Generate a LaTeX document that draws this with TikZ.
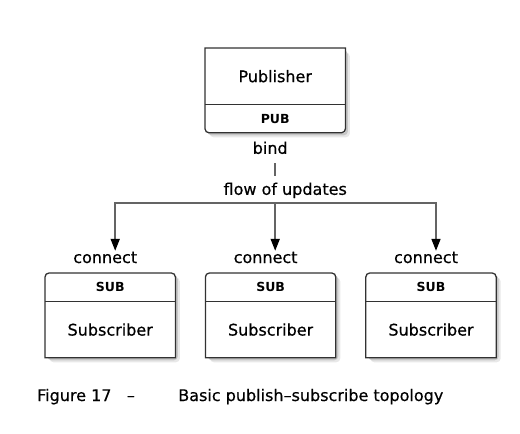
\documentclass[tikz,border=0pt]{standalone}
\usepackage{fontspec}
\setmainfont{DejaVu Sans}[UprightFeatures={FakeBold=0.5}]
\usetikzlibrary{arrows.meta, positioning, calc, backgrounds}
\definecolor{frameFg}{RGB}{50, 50, 50}
\definecolor{wireFg}{RGB}{100, 100, 100}
\tikzstyle{wire} = [line width=1.6pt, draw=wireFg]
\tikzstyle{arrow} = [wire, -{Triangle[width=9pt,length=12pt,color=black]}]
\tikzstyle{frame} = [line width=1.3pt, draw=frameFg]
\tikzstyle{softshade} = [fill=black!9, rounded corners=4pt]
\tikzstyle{darkshade} = [fill=black!22, rounded corners=4pt]
\tikzstyle{part} = [rectangle, inner sep=0pt, text centered, font=\fontsize{16}{19}\selectfont]
\tikzstyle{sock} = [part, font=\fontsize{12.5}{15}\selectfont\bfseries]
\tikzstyle{lbl} = [inner sep=0pt, text height=12pt, text depth=3pt, font=\fontsize{16}{19}\selectfont]

\begin{document}
\begin{tikzpicture}
\useasboundingbox (0,0) rectangle (520pt,-434pt);

\node (pub) [part, minimum width=140pt, minimum height=56pt, anchor=north west] at (205pt,-48pt) {Publisher};
\node (pubsock) [sock, minimum width=140pt, minimum height=28pt, anchor=north] at (pub.south) {PUB};

\node (sub1sock) [sock, minimum width=130pt, minimum height=28pt, anchor=north west] at (45pt,-273pt) {SUB};
\node (sub2sock) [sock, minimum width=130pt, minimum height=28pt, anchor=west, xshift=30pt] at (sub1sock.east) {SUB};
\node (sub3sock) [sock, minimum width=130pt, minimum height=28pt, anchor=west, xshift=30pt] at (sub2sock.east) {SUB};
\node (sub1) [part, minimum width=130pt, minimum height=56pt, anchor=north] at (sub1sock.south) {Subscriber};
\node (sub2) [part, minimum width=130pt, minimum height=56pt, anchor=north] at (sub2sock.south) {Subscriber};
\node (sub3) [part, minimum width=130pt, minimum height=56pt, anchor=north] at (sub3sock.south) {Subscriber};

% shadows behind the boxes
\begin{scope}[on background layer]
\fill [softshade] ($(pub.north west)+(4.5pt,-4.5pt)$) rectangle ($(pubsock.south east)+(4.5pt,-4.5pt)$);
\fill [darkshade] ($(pub.north west)+(2.5pt,-2.5pt)$) rectangle ($(pubsock.south east)+(2.5pt,-2.5pt)$);
\fill [softshade] ($(sub1sock.north west)+(4.5pt,-4.5pt)$) rectangle ($(sub1.south east)+(4.5pt,-4.5pt)$);
\fill [darkshade] ($(sub1sock.north west)+(2.5pt,-2.5pt)$) rectangle ($(sub1.south east)+(2.5pt,-2.5pt)$);
\fill [softshade] ($(sub2sock.north west)+(4.5pt,-4.5pt)$) rectangle ($(sub2.south east)+(4.5pt,-4.5pt)$);
\fill [darkshade] ($(sub2sock.north west)+(2.5pt,-2.5pt)$) rectangle ($(sub2.south east)+(2.5pt,-2.5pt)$);
\fill [softshade] ($(sub3sock.north west)+(4.5pt,-4.5pt)$) rectangle ($(sub3.south east)+(4.5pt,-4.5pt)$);
\fill [darkshade] ($(sub3sock.north west)+(2.5pt,-2.5pt)$) rectangle ($(sub3.south east)+(2.5pt,-2.5pt)$);
\fill [white] (pub.north west) rectangle (pubsock.south east);
\fill [white] (sub1sock.north west) rectangle (sub1.south east);
\fill [white] (sub2sock.north west) rectangle (sub2.south east);
\fill [white] (sub3sock.north west) rectangle (sub3.south east);
\end{scope}

\draw [frame] (pub.south west) -- (pub.north west) -- (pub.north east) -- (pub.south east) [rounded corners=4pt] -- (pubsock.south east) -- (pubsock.south west) -- (pub.south west);
\draw [frame] (pub.south west) -- (pub.south east);
\draw [frame] (sub1.north west) -- (sub1.south west) -- (sub1.south east) -- (sub1.north east) [rounded corners=4pt] -- (sub1sock.north east) -- (sub1sock.north west) -- (sub1.north west);
\draw [frame] (sub1.north west) -- (sub1.north east);
\draw [frame] (sub2.north west) -- (sub2.south west) -- (sub2.south east) -- (sub2.north east) [rounded corners=4pt] -- (sub2sock.north east) -- (sub2sock.north west) -- (sub2.north west);
\draw [frame] (sub2.north west) -- (sub2.north east);
\draw [frame] (sub3.north west) -- (sub3.south west) -- (sub3.south east) -- (sub3.north east) [rounded corners=4pt] -- (sub3sock.north east) -- (sub3sock.north west) -- (sub3.north west);
\draw [frame] (sub3.north west) -- (sub3.north east);

\node (bind) [lbl, anchor=base, xshift=-5pt, yshift=-21pt] at (pubsock.south) {bind};
\node (flow) [lbl, anchor=base, xshift=15pt, yshift=-41pt] at (bind.base) {flow of updates};
\draw [wire, shorten <=6pt, shorten >=7pt] (bind.south -| pubsock.south) -- (flow.north -| pubsock.south);

\node (conn1) [lbl, anchor=base, xshift=-5pt, yshift=10pt] at (sub1sock.north) {connect};
\node (conn2) [lbl, anchor=base, xshift=-5pt, yshift=10pt] at (sub2sock.north) {connect};
\node (conn3) [lbl, anchor=base, xshift=-5pt, yshift=10pt] at (sub3sock.north) {connect};

\coordinate (split) at ($(pubsock.south)+(0,-70pt)$);
\draw [arrow] (split) -| ($(conn1.north)+(10pt,0)$);
\draw [arrow] (split) -- (split |- conn2.north);
\draw [arrow] (split) -| ($(conn3.north)+(10pt,0)$);

\node (fig) [lbl, anchor=base west] at (37pt,-401pt) {Figure 17};
\node (dash) [lbl, anchor=base west, xshift=15pt] at (fig.base east) {–};
\node (title) [lbl, anchor=base west, xshift=43pt] at (dash.base east) {Basic publish–subscribe topology};

\end{tikzpicture}
\end{document}
